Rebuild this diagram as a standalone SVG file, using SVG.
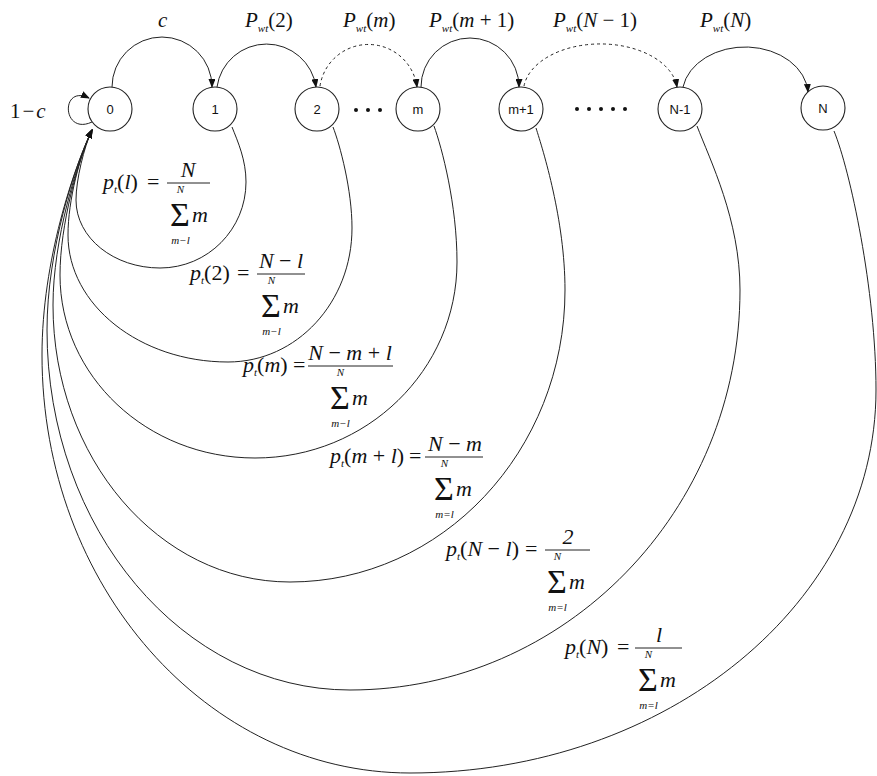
<svg xmlns="http://www.w3.org/2000/svg" width="877" height="776" viewBox="0 0 877 776">
<defs>
<marker id="arr" markerWidth="9" markerHeight="7" refX="8" refY="3.5" orient="auto" markerUnits="userSpaceOnUse">
<path d="M0,0 L9,3.5 L0,7 z" fill="#111"/>
</marker>
<style>
.nc{fill:#fff;stroke:#222;stroke-width:1.1}
.nl{font-family:"Liberation Sans",Arial,sans-serif;font-size:13px;text-anchor:middle;fill:#111}
.e{fill:none;stroke:#222;stroke-width:1}
.d{stroke-dasharray:3 3}
.t{font-family:"Liberation Serif","Times New Roman",serif;font-size:21px;fill:#111}
.m{font-family:"Liberation Serif","Times New Roman",serif;font-size:22px;fill:#111}
.i{font-style:italic}
.s{font-size:11px;font-style:italic}
.sig{font-size:34px;font-style:normal}
.bar{stroke:#222;stroke-width:1}
.dot{fill:#111}
</style>
</defs>
<rect width="877" height="776" fill="#fff"/>

<g id="connectors">
<path class="e" d="M112,87 A50,50 0 0 1 212,87" marker-end="url(#arr)"/>
<path class="e" d="M217,87 A50,50 0 0 1 316,87" marker-end="url(#arr)"/>
<path class="e d" d="M320,86 A49,49 0 0 1 417,87" marker-end="url(#arr)"/>
<path class="e" d="M421,87 A49,49 0 0 1 519,87" marker-end="url(#arr)"/>
<path class="e d" d="M524,86 A77,48 0 0 1 677,87" marker-end="url(#arr)"/>
<path class="e" d="M683,87 A63,48 0 0 1 808,92" marker-end="url(#arr)"/>
<path class="e" d="M92,122 C62,136 60,84 89,98" marker-end="url(#arr)"/>
<path class="e" d="M232,127 C238,142 246,160 246,182 C246,229 208,268 160,268 C114,268 76,238 76,200 C76,180 84,147 92,130" marker-end="url(#arr)"/>
<path class="e" d="M333,127 C340,145 352,190 352,228 C352,302 297,362 228,362 C140,362 68,305 68,235 C68,200 80,155 92,130" marker-end="url(#arr)"/>
<path class="e" d="M434,126 C442,148 457,205 457,262 C457,370 367,458 255,458 C147,458 60,376 60,275 C60,225 78,160 92,130" marker-end="url(#arr)"/>
<path class="e" d="M536,128 C543,150 565,220 565,290 C565,451 442,582 290,582 C159,582 53,458 53,305 C53,240 77,162 92,130" marker-end="url(#arr)"/>
<path class="e" d="M697,126 C710,160 740,220 740,290 C740,511 565,690 350,690 C183,690 47,529 47,330 C47,250 75,165 92,130" marker-end="url(#arr)"/>
<path class="e" d="M834,131 C850,170 876,290 876,390 C876,602 667,773 410,773 C207,773 42,586 42,355 C42,260 74,168 92,130" marker-end="url(#arr)"/>
</g>

<g id="node-0"><circle class="nc" cx="110" cy="109" r="22"/><text class="nl" x="110" y="113.5">0</text></g>
<g id="node-1"><circle class="nc" cx="215" cy="109" r="22"/><text class="nl" x="215" y="113.5">1</text></g>
<g id="node-2"><circle class="nc" cx="317" cy="109" r="22"/><text class="nl" x="317" y="113.5">2</text></g>
<g id="node-m"><circle class="nc" cx="418" cy="109" r="22"/><text class="nl" x="418" y="113.5">m</text></g>
<g id="node-m1"><circle class="nc" cx="521" cy="109" r="22"/><text class="nl" x="521" y="113.5">m+1</text></g>
<g id="node-N1"><circle class="nc" cx="680" cy="109" r="22"/><text class="nl" x="680" y="113.5">N-1</text></g>
<g id="node-N"><circle class="nc" cx="823" cy="108" r="22"/><text class="nl" x="823" y="112.5">N</text></g>

<g id="ellipsis">
<circle class="dot" cx="356" cy="110" r="2"/><circle class="dot" cx="368" cy="110" r="2"/><circle class="dot" cx="380" cy="110" r="2"/>
<circle class="dot" cx="577" cy="109" r="2"/><circle class="dot" cx="589" cy="109" r="2"/><circle class="dot" cx="601" cy="109" r="2"/><circle class="dot" cx="613" cy="109" r="2"/><circle class="dot" cx="625" cy="109" r="2"/>
</g>

<g id="top-labels">
<text class="t" x="10" y="118">1<tspan dx="2">−</tspan><tspan class="i" dx="2">c</tspan></text>
<text class="t i" x="158" y="27">c</text>
<text class="t" x="245" y="27"><tspan class="i">P</tspan><tspan class="s" dy="5">wt</tspan><tspan dy="-5">(2)</tspan></text>
<text class="t" x="343" y="27"><tspan class="i">P</tspan><tspan class="s" dy="5">wt</tspan><tspan dy="-5">(</tspan><tspan class="i">m</tspan>)</text>
<text class="t" x="429" y="27"><tspan class="i">P</tspan><tspan class="s" dy="5">wt</tspan><tspan dy="-5">(</tspan><tspan class="i">m</tspan> + 1)</text>
<text class="t" x="553" y="27"><tspan class="i">P</tspan><tspan class="s" dy="5">wt</tspan><tspan dy="-5">(</tspan><tspan class="i">N</tspan> − 1)</text>
<text class="t" x="700" y="27"><tspan class="i">P</tspan><tspan class="s" dy="5">wt</tspan><tspan dy="-5">(</tspan><tspan class="i">N</tspan>)</text>
</g>

<g id="formula-1">
<text class="m" x="103" y="189"><tspan class="i">p</tspan><tspan class="s" dy="4">t</tspan><tspan dy="-4">(</tspan><tspan class="i">l</tspan>)</text>
<text class="m" x="147" y="189">=</text>
<line class="bar" x1="167" y1="183" x2="210" y2="183"/>
<text class="m i" x="188" y="177" text-anchor="middle">N</text>
<text class="m"><tspan class="s" x="176.8" y="193">N</tspan><tspan class="sig" x="170" y="226">Σ</tspan><tspan class="i" x="192" y="222">m</tspan><tspan class="s" x="171.3" y="244">m−l</tspan></text>
</g>

<g id="formula-2">
<text class="m" x="190" y="280"><tspan class="i">p</tspan><tspan class="s" dy="4">t</tspan><tspan dy="-4">(2)</tspan></text>
<text class="m" x="237" y="280">=</text>
<line class="bar" x1="257" y1="274" x2="305" y2="274"/>
<text class="m" x="281" y="268" text-anchor="middle"><tspan class="i">N</tspan> − <tspan class="i">l</tspan></text>
<text class="m"><tspan class="s" x="267.8" y="284">N</tspan><tspan class="sig" x="261" y="317">Σ</tspan><tspan class="i" x="283" y="313">m</tspan><tspan class="s" x="262.3" y="335">m−l</tspan></text>
</g>

<g id="formula-3">
<text class="m" x="243" y="372"><tspan class="i">p</tspan><tspan class="s" dy="4">t</tspan><tspan dy="-4">(</tspan><tspan class="i">m</tspan>)</text>
<text class="m" x="293" y="372">=</text>
<line class="bar" x1="308" y1="366" x2="393" y2="366"/>
<text class="m" x="350" y="360" text-anchor="middle"><tspan class="i">N</tspan> − <tspan class="i">m</tspan> + <tspan class="i">l</tspan></text>
<text class="m"><tspan class="s" x="336.8" y="376">N</tspan><tspan class="sig" x="330" y="409">Σ</tspan><tspan class="i" x="352" y="405">m</tspan><tspan class="s" x="331.3" y="427">m−l</tspan></text>
</g>

<g id="formula-4">
<text class="m" x="330" y="463"><tspan class="i">p</tspan><tspan class="s" dy="4">t</tspan><tspan dy="-4">(</tspan><tspan class="i">m</tspan> + <tspan class="i">l</tspan>)</text>
<text class="m" x="409" y="463">=</text>
<line class="bar" x1="425" y1="457" x2="483" y2="457"/>
<text class="m" x="455" y="451" text-anchor="middle"><tspan class="i">N</tspan> − <tspan class="i">m</tspan></text>
<text class="m"><tspan class="s" x="440.8" y="467">N</tspan><tspan class="sig" x="434" y="500">Σ</tspan><tspan class="i" x="456" y="496">m</tspan><tspan class="s" x="435.3" y="518">m=l</tspan></text>
</g>

<g id="formula-5">
<text class="m" x="446" y="556"><tspan class="i">p</tspan><tspan class="s" dy="4">t</tspan><tspan dy="-4">(</tspan><tspan class="i">N</tspan> − <tspan class="i">l</tspan>)</text>
<text class="m" x="525" y="556">=</text>
<line class="bar" x1="545" y1="550" x2="590" y2="550"/>
<text class="m i" x="568" y="544" text-anchor="middle">2</text>
<text class="m"><tspan class="s" x="553.8" y="560">N</tspan><tspan class="sig" x="547" y="593">Σ</tspan><tspan class="i" x="569" y="589">m</tspan><tspan class="s" x="548.3" y="611">m=l</tspan></text>
</g>

<g id="formula-6">
<text class="m" x="565" y="654"><tspan class="i">p</tspan><tspan class="s" dy="4">t</tspan><tspan dy="-4">(</tspan><tspan class="i">N</tspan>)</text>
<text class="m" x="617" y="654">=</text>
<line class="bar" x1="635" y1="648" x2="682" y2="648"/>
<text class="m i" x="659" y="642" text-anchor="middle">l</text>
<text class="m"><tspan class="s" x="644.8" y="658">N</tspan><tspan class="sig" x="638" y="691">Σ</tspan><tspan class="i" x="660" y="687">m</tspan><tspan class="s" x="639.3" y="709">m=l</tspan></text>
</g>
</svg>
